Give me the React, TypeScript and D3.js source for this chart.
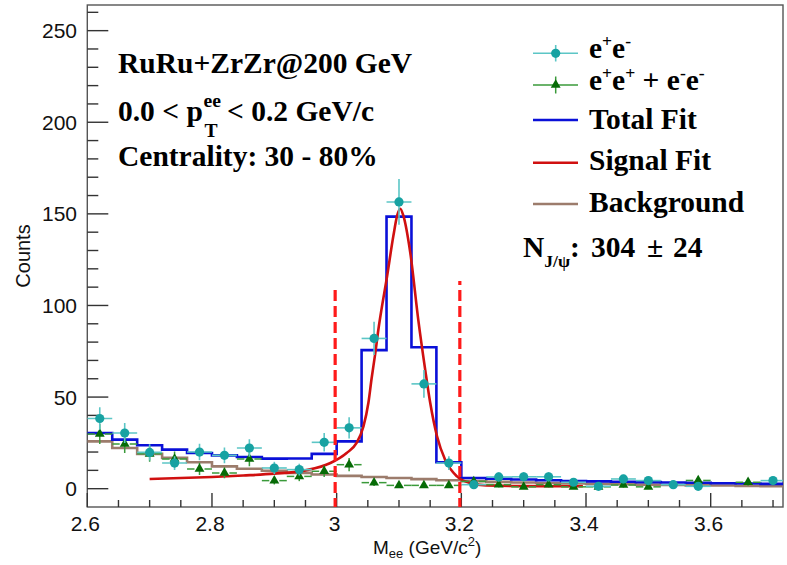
import React from 'react';
import * as d3 from 'd3';

// ---------- data ----------
const binWidth = 0.04;
const binCenters = [2.62, 2.66, 2.70, 2.74, 2.78, 2.82, 2.86, 2.90, 2.94, 2.98, 3.02, 3.06, 3.10, 3.14, 3.18, 3.22, 3.26, 3.30, 3.34, 3.38, 3.42, 3.46, 3.50, 3.54, 3.58, 3.62, 3.66, 3.70];
const unlikeSign: (number | null)[] = [38.3, 30.4, 19.8, 14.0, 20.0, 18.2, 22.2, 11.3, 10.4, 25.3, 33.2, 82.0, 156.5, 57.2, 14.0, 2.2, 6.4, 6.5, 6.5, 3.5, 1.3, 5.3, 4.4, 2.2, 1.3, null, null, 4.4];
const likeSign: (number | null)[] = [29.9, 24.4, 19.0, 16.2, 10.8, 8.6, 16.2, 4.4, 6.7, 9.5, 13.1, 3.3, 1.8, 1.8, 1.8, 4.0, 2.2, 1.0, 2.2, 1.0, 1.0, 2.0, 1.0, null, 4.5, null, 3.5, null];
const totalFit = [30.4, 26.8, 23.7, 21.3, 19.5, 18.2, 17.3, 16.4, 16.5, 19.0, 25.8, 75.6, 148.5, 77.2, 14.4, 5.8, 5.4, 5.0, 4.6, 4.2, 4.0, 3.8, 3.6, 3.4, 3.2, 3.0, 2.8, 2.6];
const background = [25.8, 22.2, 19.0, 16.8, 14.4, 12.2, 10.9, 9.8, 8.6, 7.7, 7.0, 6.4, 5.8, 5.2, 4.6, 4.1, 3.7, 3.4, 3.1, 2.8, 2.6, 2.4, 2.2, 2.0, 1.8, 1.7, 1.5, 1.4];
const signalX = [2.70, 2.75, 2.80, 2.85, 2.90, 2.95, 2.99, 3.016, 3.032, 3.043, 3.051, 3.056, 3.062, 3.067, 3.072, 3.080, 3.091, 3.097, 3.102, 3.107, 3.118, 3.131, 3.142, 3.150, 3.161, 3.174, 3.193, 3.214, 3.24, 3.30, 3.395];
const signalY = [5.3, 5.8, 6.4, 7.2, 8.2, 10.0, 14.0, 19.5, 25.0, 34.0, 47.0, 60.0, 74.0, 87.0, 98.0, 114.0, 138.0, 149.0, 152.8, 149.0, 129.0, 92.0, 65.0, 47.0, 28.6, 15.8, 6.7, 3.1, 1.8, 1.4, 1.3];
const cutX = [3.0, 3.2];
const cutTop = [110.4, 113.3];
const xMajorTicks = [2.6, 2.8, 3.0, 3.2, 3.4, 3.6];
const xTickLabels = ['2.6', '2.8', '3', '3.2', '3.4', '3.6'];
const yMajorTicks = [0, 50, 100, 150, 200, 250];
const yTickLabels = ['0', '50', '100', '150', '200', '250'];

// ---------- style ----------
const W = 787, H = 565;
const L = 87.3, R = 783, T = 5, B = 507;
const SERIF = "'Liberation Serif', 'Times New Roman', serif";
const SANS = "'Liberation Sans', Arial, sans-serif";
const C_TEAL = '#17a2a2', C_TEAL_ERR = '#5cc6c6';
const C_GREEN = '#076b07', C_GREEN_ERR = '#3a9a3a';
const C_BLUE = '#0a10d8', C_RED = '#d01010', C_BROWN = '#9c7c6c', C_CUT = '#ff1a1a';
const SX = 1.035;

function ST({ x, y, size = 28.5, children }: { x: number; y: number; size?: number; children: React.ReactNode }) {
  return (
    <text transform={`translate(${x},${y}) scale(${SX},1)`} fontFamily={SERIF} fontWeight="bold" fontSize={size} fill="#000">
      {children}
    </text>
  );
}

export default function App() {
  const x = d3.scaleLinear().domain([2.6, 3.716]).range([L, R]);
  const y = d3.scaleLinear().domain([-10, 264]).range([B, T]);

  const xMinor = d3.range(2.65, 3.716, 0.05).filter(v => Math.abs(Math.round(v * 5) - v * 5) > 1e-6);
  const yMinor = d3.range(10, 264, 10).filter(v => v % 50 !== 0);

  const stepLine = d3.line<[number, number]>().x(d => x(d[0])).y(d => y(d[1])).curve(d3.curveStepAfter);
  const stepPts = (vals: number[]): [number, number][] => {
    const pts: [number, number][] = binCenters.map((c, i) => [c - binWidth / 2, vals[i]]);
    pts.push([binCenters[binCenters.length - 1] + binWidth / 2, vals[vals.length - 1]]);
    return pts;
  };
  const sigLine = d3.line<number>().x((_, i) => x(signalX[i])).y(d => y(d)).curve(d3.curveMonotoneX);
  const tri = d3.symbol().type(d3.symbolTriangle).size(42)();
  const halfBin = x(2.6 + binWidth / 2) - x(2.6);

  return (
    <svg width={W} height={H} style={{ position: 'absolute', left: 0, top: 0, background: '#fff' }}>
      <defs>
        <clipPath id="plot"><rect x={L} y={T} width={R - L} height={B - T} /></clipPath>
      </defs>
      <rect x={0} y={0} width={W} height={H} fill="#fff" />

      {/* frame */}
      <rect x={L} y={T} width={R - L} height={B - T} fill="none" stroke="#555" strokeWidth={1.4} />

      {/* y ticks */}
      {yMajorTicks.map((v, i) => (
        <g key={'ym' + v}>
          <line x1={L} x2={L + 21} y1={y(v)} y2={y(v)} stroke="#333" strokeWidth={1.4} />
          <text x={77} y={y(v) + 7.5} textAnchor="end" fontFamily={SANS} fontSize={21} fill="#111">{yTickLabels[i]}</text>
        </g>
      ))}
      {yMinor.map(v => <line key={'yn' + v} x1={L} x2={L + 11} y1={y(v)} y2={y(v)} stroke="#333" strokeWidth={1.4} />)}

      {/* x ticks */}
      {xMajorTicks.map((v, i) => (
        <g key={'xm' + v}>
          <line x1={x(v)} x2={x(v)} y1={B} y2={B - 14} stroke="#333" strokeWidth={1.4} />
          <text x={x(v) - 2} y={530.5} textAnchor="middle" fontFamily={SANS} fontSize={21} fill="#111">{xTickLabels[i]}</text>
        </g>
      ))}
      {xMinor.map(v => <line key={'xn' + v} x1={x(v)} x2={x(v)} y1={B} y2={B - 7} stroke="#333" strokeWidth={1.4} />)}

      {/* axis titles */}
      <text transform="translate(30,256) rotate(-90)" textAnchor="middle" fontFamily={SANS} fontSize={20} fill="#111">Counts</text>
      <text x={373} y={554} fontFamily={SANS} fontSize={19} fill="#111">
        M<tspan fontSize={13} dy={4}>ee</tspan><tspan dy={-4}> (GeV/c</tspan><tspan fontSize={13} dy={-8}>2</tspan><tspan dy={8}>)</tspan>
      </text>

      <g clipPath="url(#plot)">
        <path d={stepLine(stepPts(background)) || ''} fill="none" stroke={C_BROWN} strokeWidth={2.6} />
        <path d={stepLine(stepPts(totalFit)) || ''} fill="none" stroke={C_BLUE} strokeWidth={2.6} />
        <path d={sigLine(signalY) || ''} fill="none" stroke={C_RED} strokeWidth={2.6} />

        {/* like-sign points */}
        {likeSign.map((v, i) => {
          if (v === null) return null;
          const cx = x(binCenters[i]), cy = y(v);
          const e = Math.sqrt(v);
          return (
            <g key={'ls' + i}>
              <line x1={cx - halfBin} x2={cx - 5} y1={cy} y2={cy} stroke={C_GREEN_ERR} strokeWidth={1.5} />
              <line x1={cx + 5} x2={cx + halfBin} y1={cy} y2={cy} stroke={C_GREEN_ERR} strokeWidth={1.5} />
              <line x1={cx} x2={cx} y1={y(v + e)} y2={y(v - e)} stroke={C_GREEN_ERR} strokeWidth={1.5} />
              <path d={tri || ''} transform={`translate(${cx},${cy})`} fill={C_GREEN} />
            </g>
          );
        })}

        {/* unlike-sign points */}
        {unlikeSign.map((v, i) => {
          if (v === null) return null;
          const cx = x(binCenters[i]), cy = y(v);
          const e = Math.sqrt(v);
          return (
            <g key={'us' + i}>
              <line x1={cx - halfBin} x2={cx + halfBin} y1={cy} y2={cy} stroke={C_TEAL_ERR} strokeWidth={1.6} />
              <line x1={cx} x2={cx} y1={y(v + e)} y2={y(v - e)} stroke={C_TEAL_ERR} strokeWidth={1.6} />
              <circle cx={cx} cy={cy} r={4.6} fill={C_TEAL} />
            </g>
          );
        })}

        {/* mass window */}
        {cutX.map((c, i) => (
          <line key={'cut' + i} x1={x(c) - 1.5} x2={x(c) - 1.5} y1={B + 2} y2={y(cutTop[i])} stroke={C_CUT} strokeWidth={3.2} strokeDasharray="11,5" />
        ))}
      </g>

      {/* annotations */}
      <ST x={118} y={73}>RuRu+ZrZr@200 GeV</ST>
      <ST x={118} y={121}>0.0 &lt; p</ST>
      <ST x={203.5} y={107} size={19}>ee</ST>
      <ST x={204.5} y={137} size={19}>T</ST>
      <ST x={227} y={121}>&lt; 0.2 GeV/c</ST>
      <ST x={118} y={166}>Centrality: 30 - 80%</ST>

      {/* legend */}
      <g>
        <line x1={533} x2={578} y1={53.3} y2={53.3} stroke={C_TEAL_ERR} strokeWidth={1.6} />
        <line x1={555.7} x2={555.7} y1={45} y2={61.5} stroke={C_TEAL_ERR} strokeWidth={1.6} />
        <circle cx={555.7} cy={53.3} r={4.6} fill={C_TEAL} />
        <line x1={533} x2={578} y1={85} y2={85} stroke={C_GREEN_ERR} strokeWidth={1.5} />
        <line x1={555.7} x2={555.7} y1={76.5} y2={93.5} stroke={C_GREEN_ERR} strokeWidth={1.5} />
        <path d={tri || ''} transform="translate(555.7,85)" fill={C_GREEN} />
        <line x1={533} x2={578} y1={120} y2={120} stroke={C_BLUE} strokeWidth={2.6} />
        <line x1={533} x2={578} y1={162.7} y2={162.7} stroke={C_RED} strokeWidth={2.6} />
        <line x1={533} x2={578} y1={204} y2={204} stroke={C_BROWN} strokeWidth={2.6} />
      </g>
      <ST x={589} y={58}>e<tspan fontSize={17} dy={-11}>+</tspan><tspan dy={11}>e</tspan><tspan fontSize={17} dy={-11}>-</tspan></ST>
      <ST x={589} y={90}>e<tspan fontSize={17} dy={-11}>+</tspan><tspan dy={11}>e</tspan><tspan fontSize={17} dy={-11}>+</tspan><tspan dy={11}> + e</tspan><tspan fontSize={17} dy={-11}>-</tspan><tspan dy={11}>e</tspan><tspan fontSize={17} dy={-11}>-</tspan></ST>
      <ST x={589} y={129.3}>Total Fit</ST>
      <ST x={589} y={170}>Signal Fit</ST>
      <ST x={589} y={212.3}>Background</ST>
      <ST x={523} y={256.7}>N<tspan fontSize={17} dy={10}>J/ψ</tspan><tspan dy={-10}>:</tspan></ST>
      <ST x={591} y={256.7}>304</ST>
      <ST x={647} y={256.7}>±</ST>
      <ST x={673} y={256.7}>24</ST>
    </svg>
  );
}
